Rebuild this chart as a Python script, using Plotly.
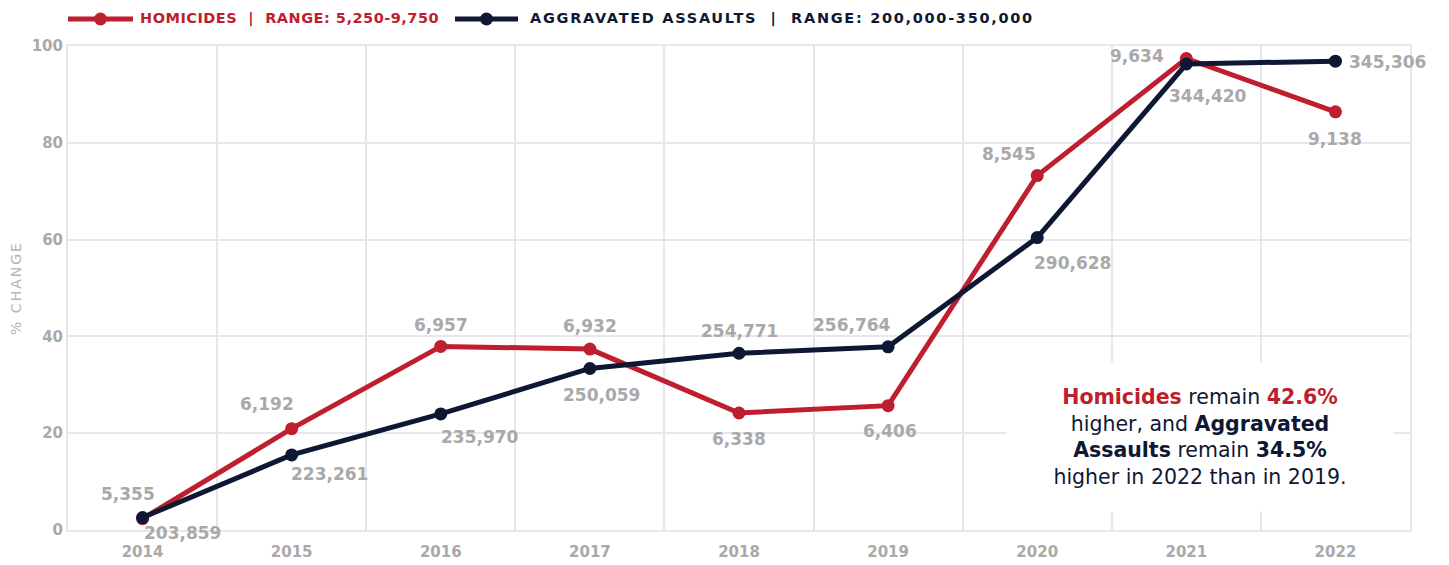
import plotly.graph_objects as go

# --- data ---
years = ["2014", "2015", "2016", "2017", "2018", "2019", "2020", "2021", "2022"]
homicides = [5355, 6192, 6957, 6932, 6338, 6406, 8545, 9634, 9138]
assaults = [203859, 223261, 235970, 250059, 254771, 256764, 290628, 344420, 345306]
hom_range = (5250, 9750)
asl_range = (200000, 350000)
y_ticks = [0, 20, 40, 60, 80, 100]

# label offsets in pixels (dx right, dy down)
hom_dx = [-15, -25, 0, 0, 0, 2, -28, -49, 0]
hom_dy = [-25, -25, -21, -23, 26, 25, -22, -2, 27]
asl_dx = [40, 38, 39, 12, 0, -36, 35, 22, 52]
asl_dy = [15, 19, 23, 27, -22, -22, 25, 32, 1]

RED = "#be1e2d"
NAVY = "#0e1834"
GRAY = "#a9a9a9"
GRID = "#e6e6ec"
FONT = "DejaVu Sans"

# plot box in page pixels (used only to place the hand-made legend)
PX_L, PX_R, PX_T, PX_B = 68, 1410, 46, 530


def to_pct(values, rng):
    lo, hi = rng
    return [(v - lo) / (hi - lo) * 100 for v in values]


def px_x(px):
    return (px - PX_L) / (PX_R - PX_L)


def px_y(py):
    return (PX_B - py) / (PX_B - PX_T)


hom_pct = to_pct(homicides, hom_range)
asl_pct = to_pct(assaults, asl_range)

fig = go.Figure()

fig.add_trace(go.Scatter(
    x=years, y=hom_pct, mode="lines+markers", name="Homicides",
    line=dict(color=RED, width=5), marker=dict(color=RED, size=13),
    cliponaxis=False, showlegend=False,
))
fig.add_trace(go.Scatter(
    x=years, y=asl_pct, mode="lines+markers", name="Aggravated Assaults",
    line=dict(color=NAVY, width=5), marker=dict(color=NAVY, size=13),
    cliponaxis=False, showlegend=False,
))

# value labels (category index used as x so the axis is not stretched)
for i, yr in enumerate(years):
    fig.add_annotation(x=i, y=hom_pct[i], text=f"{homicides[i]:,}", showarrow=False,
                       xshift=hom_dx[i], yshift=-hom_dy[i],
                       font=dict(family=FONT, size=17, color=GRAY, weight="bold"))
    fig.add_annotation(x=i, y=asl_pct[i], text=f"{assaults[i]:,}", showarrow=False,
                       xshift=asl_dx[i], yshift=-asl_dy[i],
                       font=dict(family=FONT, size=17, color=GRAY, weight="bold"))

# legend drawn by hand so the line swatch is as long as in the original
sp = "\u00a0"
legend_items = [
    (RED, 68, 133, 138, 0.5, f"HOMICIDES{sp}{sp}|{sp}{sp}RANGE: 5,250-9,750"),
    (NAVY, 455, 518, 528, 1.7, f"AGGRAVATED ASSAULTS{sp}{sp}|{sp}{sp}RANGE: 200,000-350,000"),
]
ly = px_y(19)
for color, x0, x1, tx, ls, label in legend_items:
    fig.add_shape(type="line", xref="paper", yref="paper", x0=px_x(x0), x1=px_x(x1),
                  y0=ly, y1=ly, line=dict(color=color, width=5))
    fig.add_shape(type="circle", xref="paper", yref="paper",
                  xsizemode="pixel", ysizemode="pixel",
                  xanchor=px_x((x0 + x1) / 2), yanchor=ly,
                  x0=-6.5, x1=6.5, y0=-6.5, y1=6.5,
                  fillcolor=color, line=dict(width=0))
    fig.add_annotation(xref="paper", yref="paper", x=px_x(tx), y=ly,
                       xanchor="left", yanchor="middle", showarrow=False,
                       text=f'<b><span style="letter-spacing:{ls}px">{label}</span></b>',
                       font=dict(family=FONT, size=14.5, color=color))

note = (f'<b><span style="color:{RED}">Homicides</span></b> remain '
        f'<b><span style="color:{RED}">42.6%</span></b><br>'
        'higher, and <b>Aggravated</b><br>'
        '<b>Assaults</b> remain <b>34.5%</b><br>'
        'higher in 2022 than in 2019.')
fig.add_annotation(xref="paper", yref="paper", x=px_x(1200), y=px_y(437), text=note,
                   xanchor="center", yanchor="middle",
                   showarrow=False, align="center", bgcolor="white",
                   width=384, height=146,
                   font=dict(family=FONT, size=20.5, color=NAVY))

# page body has an 8px margin, so the figure is sized to sit inside the window
fig.update_layout(
    width=1441, height=557,
    margin=dict(l=60, r=39, t=38, b=35, autoexpand=False),
    paper_bgcolor="white", plot_bgcolor="white",
    font=dict(family=FONT, color=GRAY),
    showlegend=False,
    xaxis=dict(type="category", categoryorder="array", categoryarray=years,
               range=[-0.5, len(years) - 0.5], tickson="boundaries", showgrid=True,
               gridcolor=GRID, gridwidth=2, showline=True, linecolor=GRID, linewidth=2,
               mirror=True, ticks="", tickangle=0, automargin=False, ticklabelstandoff=7,
               tickfont=dict(family=FONT, size=15, color=GRAY, weight="bold"),
               fixedrange=True),
    yaxis=dict(range=[0, 100], tickvals=y_ticks, showgrid=True, gridcolor=GRID,
               gridwidth=2, showline=True, linecolor=GRID, linewidth=2, mirror=True,
               zeroline=False, ticks="", automargin=False,
               tickfont=dict(family=FONT, size=15, color=GRAY, weight="bold"),
               title=dict(text='<span style="letter-spacing:2px">% CHANGE</span>',
                          font=dict(family=FONT, size=14, color="#b5b5b5"),
                          standoff=10),
               fixedrange=True),
)

fig.write_html("out.html")
